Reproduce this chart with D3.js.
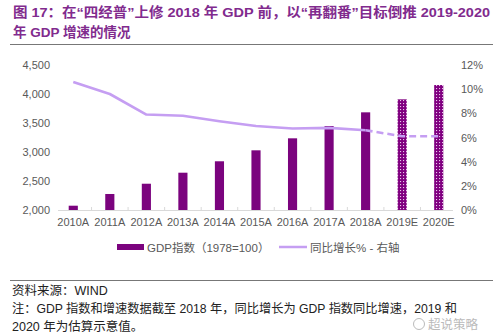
<!DOCTYPE html>
<html><head><meta charset="utf-8">
<script src="https://cdn.jsdelivr.net/npm/d3@7"></script>
<style>body{margin:0;background:#fff}svg{display:block}</style>
</head><body>
<svg id="c" width="500" height="336"></svg>
<script>
const categories = ["2010A","2011A","2012A","2013A","2014A","2015A","2016A","2017A","2018A","2019E","2020E"];
const gdpIndex = [2074, 2276, 2453, 2643, 2840, 3029, 3236, 3448, 3684, 3908, 4155];
const growth = [10.6, 9.6, 7.9, 7.8, 7.35, 6.95, 6.75, 6.8, 6.6, 6.1, 6.1];
const estimated = [false,false,false,false,false,false,false,false,false,true,true];
const leftTicks = [2000, 2500, 3000, 3500, 4000, 4500];
const rightTicks = [0, 2, 4, 6, 8, 10, 12];

const F = '"Liberation Sans","Noto Sans CJK SC",sans-serif';
const svg = d3.select("#c");
const defs = svg.append("defs");
const pat = defs.append("pattern").attr("id","dots").attr("patternUnits","userSpaceOnUse")
  .attr("width",3).attr("height",3);
pat.append("rect").attr("width",3).attr("height",3).attr("fill","#800080");
pat.append("rect").attr("x",1).attr("y",1).attr("width",1.1).attr("height",1.1).attr("fill","#e8c8ec");

// Title
const tcol = "#812b8e";
svg.append("text").attr("x",13).attr("y",17).attr("fill",tcol).attr("font-family",F)
  .attr("font-weight","bold").attr("font-size",13.5)
  .attr("textLength",477).attr("lengthAdjust","spacingAndGlyphs")
  .text("图 17：在“四经普”上修 2018 年 GDP 前，以“再翻番”目标倒推 2019-2020");
svg.append("text").attr("x",13).attr("y",37).attr("fill",tcol).attr("font-family",F)
  .attr("font-weight","bold").attr("font-size",13.5)
  .text("年 GDP 增速的情况");
svg.append("line").attr("x1",10).attr("x2",493).attr("y1",44.5).attr("y2",44.5)
  .attr("stroke","#777").attr("stroke-width",1.2);

const x = d3.scaleBand().domain(categories).range([55,457]).paddingInner(0.75).paddingOuter(0.375);
const yL = d3.scaleLinear().domain([2000,4500]).range([210,65]);
const yR = d3.scaleLinear().domain([0,12]).range([210,65]);

// Left axis
const axL = d3.axisLeft(yL).tickValues(leftTicks).tickFormat(d3.format(",")).tickSize(0).tickPadding(0);
const gL = svg.append("g").attr("transform","translate(50,0)").call(axL);
gL.select(".domain").remove();
gL.selectAll("text").attr("font-family",F).attr("font-size",11).attr("fill","#595959");

// Right axis
const axR = d3.axisRight(yR).tickValues(rightTicks).tickFormat(d=>d+"%").tickSize(0).tickPadding(0);
const gR = svg.append("g").attr("transform","translate(461,0)").call(axR);
gR.select(".domain").remove();
gR.selectAll("text").attr("font-family",F).attr("font-size",11).attr("fill","#595959");

// Bottom axis
const axB = d3.axisBottom(x).tickSize(0).tickPadding(8);
const gB = svg.append("g").attr("transform","translate(0,210)").call(axB);
gB.select(".domain").remove();
gB.selectAll("text").attr("font-family",F).attr("font-size",11).attr("fill","#595959");
svg.append("line").attr("x1",58).attr("x2",453).attr("y1",210.5).attr("y2",210.5).attr("stroke","#d9d9d9");
const step = x.step();
svg.selectAll(".tk").data(categories.slice(0,-1)).enter().append("line")
  .attr("x1",d=>x(d)+x.bandwidth()/2+step/2).attr("x2",d=>x(d)+x.bandwidth()/2+step/2)
  .attr("y1",207).attr("y2",210).attr("stroke","#d9d9d9");

// Bars
svg.selectAll(".bar").data(categories).enter().append("rect")
  .attr("x",d=>x(d)).attr("width",x.bandwidth())
  .attr("y",(d,i)=>yL(gdpIndex[i])).attr("height",(d,i)=>210-yL(gdpIndex[i]))
  .attr("fill",(d,i)=>estimated[i]?"url(#dots)":"#7b037e");

// Line
const pts = categories.map((c,i)=>[x(c)+x.bandwidth()/2, yR(growth[i]), estimated[i]]);
const lineGen = d3.line().x(d=>d[0]).y(d=>d[1]);
const lineCol = "#c59ef2";
svg.append("path").datum(pts.slice(0,9)).attr("d",lineGen).attr("fill","none")
  .attr("stroke",lineCol).attr("stroke-width",2.6).attr("stroke-linejoin","round");
svg.append("path").datum(pts.slice(8)).attr("d",lineGen).attr("fill","none")
  .attr("stroke",lineCol).attr("stroke-width",2.6).attr("stroke-dasharray","7,4");

// Legend
svg.append("rect").attr("x",117).attr("y",244).attr("width",27).attr("height",6).attr("fill","#7b037e");
svg.append("text").attr("x",147).attr("y",251.5).attr("font-family",F).attr("font-size",11.5)
  .attr("fill","#595959").text("GDP指数（1978=100）");
svg.append("line").attr("x1",279).attr("x2",307).attr("y1",247).attr("y2",247).attr("stroke",lineCol).attr("stroke-width",2.5);
svg.append("text").attr("x",310).attr("y",251.5).attr("font-family",F).attr("font-size",11.5)
  .attr("fill","#595959").text("同比增长% - 右轴");

// Footer
svg.append("line").attr("x1",10).attr("x2",493).attr("y1",280.5).attr("y2",280.5)
  .attr("stroke","#777").attr("stroke-width",1.2);
svg.append("text").attr("x",12).attr("y",295).attr("font-family",F).attr("font-size",12.5)
  .attr("fill","#222").text("资料来源：WIND");
svg.append("text").attr("x",12).attr("y",313).attr("font-family",F).attr("font-size",12.5)
  .attr("fill","#222").attr("textLength",445).attr("lengthAdjust","spacingAndGlyphs")
  .text("注：GDP 指数和增速数据截至 2018 年，同比增长为 GDP 指数同比增速，2019 和");
svg.append("text").attr("x",12).attr("y",331).attr("font-family",F).attr("font-size",12.5)
  .attr("fill","#222").text("2020 年为估算示意值。");
// watermark
svg.append("circle").attr("cx",419).attr("cy",324).attr("r",5.5).attr("fill","none").attr("stroke","#bbb").attr("stroke-width",1);
svg.append("text").attr("x",428).attr("y",329).attr("font-family",F).attr("font-size",12.5)
  .attr("fill","#aaa").attr("opacity",0.8).text("超说策略");
</script>
</body></html>
